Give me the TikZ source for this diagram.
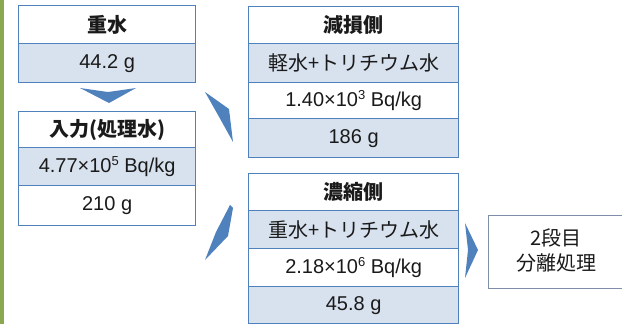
\documentclass[tikz,border=0pt]{standalone}
\usepackage{fontspec}
\setmainfont{Liberation Sans}
\newfontfamily\cjk{Noto Sans CJK JP}
\definecolor{tblue}{HTML}{4F81BD}
\definecolor{dotfill}{HTML}{D8E2EF}
\definecolor{txt}{HTML}{1A1A1A}
\definecolor{olive}{HTML}{8BA851}
\definecolor{boxline}{HTML}{7F8FAA}
\newcommand\supnum[1]{\raisebox{0.33em}{\fontsize{13}{13}\selectfont #1}}
\tikzset{
  cellbox/.style={draw=tblue, line width=1.3pt, anchor=north west, inner sep=0pt,
    text=txt, font=\fontsize{20}{25}\selectfont, align=center},
  dotcell/.style={cellbox, fill=dotfill},
  plaincell/.style={cellbox, fill=white},
  hdr/.style={plaincell, font=\fontsize{20}{25}\selectfont\cjk\bfseries},
  chev/.style={fill=tblue, draw=none},
}
\begin{document}
\begin{tikzpicture}[x=1pt,y=-1pt]
\useasboundingbox (0,0) rectangle (622,324);
\fill[olive] (0,0) rectangle (4,324);

% table 1
\node[hdr, minimum width=177pt, minimum height=38pt] (t1h) at (18,5) {重水};
\node[dotcell, minimum width=177pt, minimum height=39pt] (t1a) at (18,43) {44.2 g};

% table 2
\node[hdr, minimum width=177pt, minimum height=36pt] (t2h) at (18,111) {入力(処理水)};
\node[dotcell, minimum width=177pt, minimum height=38pt] (t2a) at (18,147) {4.77×10\supnum{5} Bq/kg};
\node[plaincell, minimum width=177pt, minimum height=40pt] (t2b) at (18,185) {210 g};

% table 3
\node[hdr, minimum width=210pt, minimum height=37pt] (t3h) at (248,6) {減損側};
\node[dotcell, minimum width=210pt, minimum height=39pt, font=\fontsize{20}{25}\selectfont\cjk] (t3a) at (248,43) {軽水+トリチウム水};
\node[plaincell, minimum width=210pt, minimum height=36pt] (t3b) at (248,82) {1.40×10\supnum{3} Bq/kg};
\node[dotcell, minimum width=210pt, minimum height=39pt] (t3c) at (248,118) {186 g};

% table 4
\node[hdr, minimum width=210pt, minimum height=37pt] (t4h) at (248,173) {濃縮側};
\node[dotcell, minimum width=210pt, minimum height=38pt, font=\fontsize{20}{25}\selectfont\cjk] (t4a) at (248,210) {重水+トリチウム水};
\node[plaincell, minimum width=210pt, minimum height=38pt] (t4b) at (248,248) {2.18×10\supnum{6} Bq/kg};
\node[dotcell, minimum width=210pt, minimum height=37pt] (t4c) at (248,286) {45.8 g};

% next stage box
\node[draw=boxline, line width=1pt, anchor=north west, minimum width=140pt, minimum height=73pt, inner sep=0pt] (b5) at (488,215) {};
\node[text=txt, font=\fontsize{20}{25}\selectfont\cjk, align=center] (b5t) at (556,250) {2段目\\分離処理};

% chevron arrows
\fill[chev] (80,88) -- (108,92) -- (136,88) -- (109,103) -- cycle;
\fill[chev] (205,92) -- (229,109) -- (233,142) -- (218,115) -- cycle;
\fill[chev] (230,205) -- (233,208) -- (228,236) -- (205,260) -- (216,232) -- cycle;
\fill[chev] (465,223) -- (478,250) -- (465,278) -- (468,250) -- cycle;
\end{tikzpicture}
\end{document}
